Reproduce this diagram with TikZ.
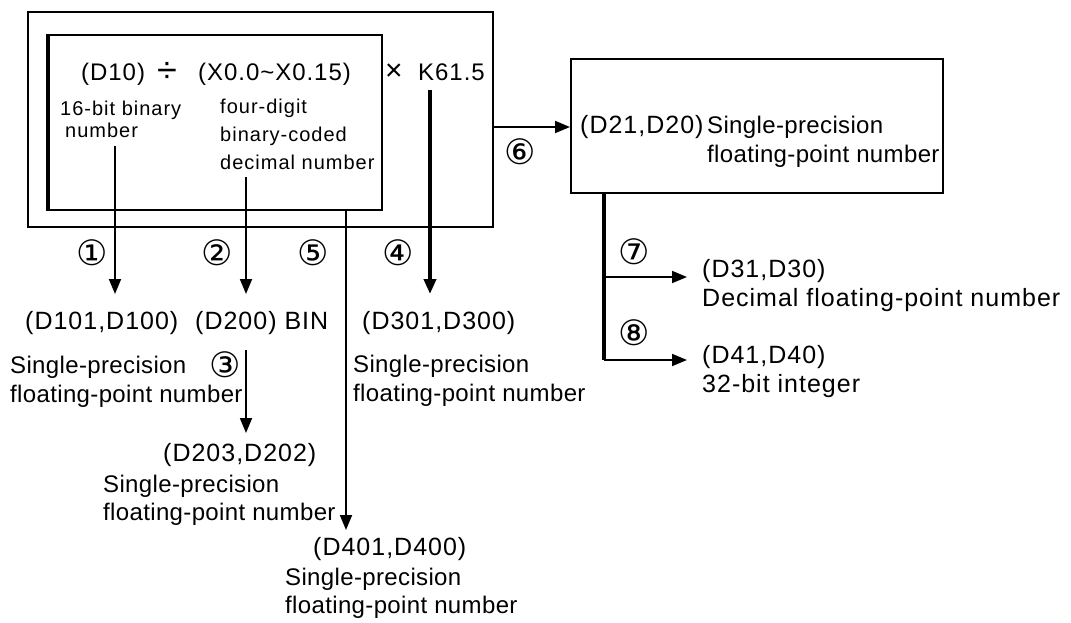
\documentclass[tikz,border=0pt]{standalone}
\usepackage{fontspec}
\setmainfont{Liberation Sans}
\newfontfamily\lblf[LetterSpace=4]{Liberation Sans}
\newfontfamily\dscf[LetterSpace=1.5]{Liberation Sans}
\newfontfamily\smlf[LetterSpace=5]{Liberation Sans}
\newfontfamily\circf{DejaVu Sans}
\usetikzlibrary{arrows.meta}
\begin{document}
\begin{tikzpicture}[x=1pt,y=-1pt,
  boxn/.style={draw,line width=1.8pt,inner sep=0,anchor=north west},
  arr/.style={line width=1.8pt,-{Triangle[length=15pt,width=12pt]}},
  thickln/.style={line width=4pt},
  tl/.style={inner sep=0,anchor=base west,font=\lblf\fontsize{24}{28}\selectfont},
  sm/.style={inner sep=0,anchor=base west,font=\smlf\fontsize{20}{24}\selectfont},
  lb/.style={inner sep=0,anchor=base west,font=\lblf\fontsize{25}{28}\selectfont},
  ds/.style={inner sep=0,anchor=base west,font=\dscf\fontsize{24}{28}\selectfont},
  cn/.style={inner sep=0,anchor=center,font=\circf\fontsize{35}{38}\selectfont}]
\useasboundingbox (0,0) rectangle (1071,622);
% boxes
\node[boxn,minimum width=465pt,minimum height=215pt] (outer) at (27,11) {};
\node[boxn,minimum width=333pt,minimum height=175pt] (inner) at (48,34) {};
\draw[line width=4pt] (inner.north west) -- (inner.south west);
\node[boxn,minimum width=372pt,minimum height=134pt] (rbox) at (570,58) {};
% top formula
\node[tl] (d10) at (81,80) {(D10)};
\node[inner sep=0,anchor=base,font=\fontsize{36}{36}\selectfont] (div) at (167,82) {÷};
\node[tl] (xr) at (198,80) {(X0.0\textasciitilde X0.15)};
\node[inner sep=0,anchor=base,font=\fontsize{30}{30}\selectfont] (times) at (394,80) {×};
\node[tl] (k) at (418,80) {K61.5};
\node[sm] (bin16) at (60,115) {16-bit binary};
\node[sm] (num16) at (65,137) {number};
\node[sm] (fd) at (220,113) {four-digit};
\node[sm] (bc) at (220,141) {binary-coded};
\node[sm] (dn) at (220,169) {decimal number};
% bottom labels
\node[lb] (d101) at (25,329) {(D101,D100)};
\node[lb] (d200) at (195,329) {(D200) BIN};
\node[lb] (d301) at (362,329) {(D301,D300)};
\node[ds] (sp1) at (10,373) {Single-precision};
\node[ds] (fp1) at (10,402) {floating-point number};
\node[ds] (sp4) at (353,372) {Single-precision};
\node[ds] (fp4) at (353,401) {floating-point number};
\node[lb] (d203) at (163,461) {(D203,D202)};
\node[ds] (sp3) at (103,492) {Single-precision};
\node[ds] (fp3) at (103,520) {floating-point number};
\node[lb] (d401) at (313,555) {(D401,D400)};
\node[ds] (sp5) at (285,585) {Single-precision};
\node[ds] (fp5) at (285,613) {floating-point number};
% right
\node[lb] (d21) at (580,133) {(D21,D20)};
\node[ds] (sp6) at (707,133) {Single-precision};
\node[ds] (fp6) at (707,162) {floating-point number};
\node[lb] (d31) at (702,277) {(D31,D30)};
\node[lb] (dfp) at (702,306) {Decimal floating-point number};
\node[lb] (d41) at (702,363) {(D41,D40)};
\node[lb] (i32) at (702,392) {32-bit integer};
% circled numbers
\node[cn] (c1) at (92,253) {①};
\node[cn] (c2) at (217,253) {②};
\node[cn] (c5) at (313,253) {⑤};
\node[cn] (c4) at (398,253) {④};
\node[cn] (c3) at (225,365) {③};
\node[cn] (c6) at (520,152) {⑥};
\node[cn] (c7) at (634,252) {⑦};
\node[cn] (c8) at (634,333) {⑧};
% connector coordinates
\coordinate (s1) at (115,146); \coordinate (t1) at (115,294);
\coordinate (s2) at (246,177); \coordinate (t2) at (246,294);
\coordinate (s3) at (246,350); \coordinate (t3) at (246,433);
\coordinate (s4) at (430,90);  \coordinate (t4) at (430,294);
\coordinate (s5) at (346,209); \coordinate (t5) at (346,530);
\coordinate (s6) at (492,127);
\coordinate (rvtop) at (604,192); \coordinate (r7) at (604,277); \coordinate (rvbot) at (604,360);
\coordinate (t7) at (687,277); \coordinate (t8) at (687,360);
% connectors
\draw[arr] (s1) -- (t1);
\draw[arr] (s2) -- (t2);
\draw[arr] (s3) -- (t3);
\draw[arr,line width=4pt] (s4) -- (t4);
\draw[arr] (s5) -- (t5);
\draw[arr] (s6) -- (s6 -| rbox.west);
\draw[thickln] (rvtop) -- (rvbot);
\draw[arr] (r7) -- (t7);
\draw[arr] (rvbot) -- (t8);
\end{tikzpicture}
\end{document}
